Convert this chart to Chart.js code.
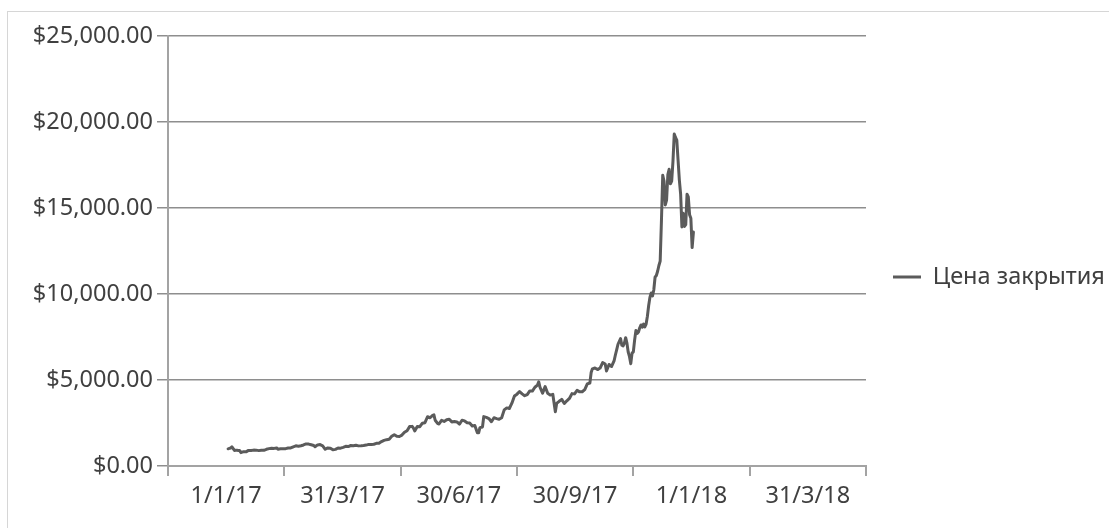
<!DOCTYPE html>
<html>
<head>
<meta charset="utf-8">
<title>Цена закрытия</title>
<script src="https://cdn.jsdelivr.net/npm/chart.js@4.4.1/dist/chart.umd.min.js"></script>
<style>
  html, body { margin: 0; padding: 0; background: #ffffff; overflow: hidden; width: 1109px; height: 528px; }
  #frame { position: absolute; left: 7px; top: 11px; width: 1300px; height: 800px; border: 1px solid #d6d6d6; }
  #chart { position: absolute; left: 0; top: 0; }
</style>
</head>
<body>
<div id="frame"></div>
<canvas id="chart" width="1109" height="528"></canvas>
<script>
// Daily closing prices, 2017
const closeDates = [
  '2017-01-01','2017-01-02','2017-01-03','2017-01-04','2017-01-05','2017-01-06','2017-01-07','2017-01-08','2017-01-09','2017-01-10',
  '2017-01-11','2017-01-12','2017-01-13','2017-01-15','2017-01-17','2017-01-19','2017-01-21','2017-01-23','2017-01-25','2017-01-27',
  '2017-01-29','2017-01-31',
  '2017-02-02','2017-02-04','2017-02-06','2017-02-08','2017-02-09','2017-02-11','2017-02-13','2017-02-15','2017-02-17','2017-02-19',
  '2017-02-21','2017-02-23','2017-02-25','2017-02-27',
  '2017-03-01','2017-03-03','2017-03-05','2017-03-07','2017-03-09','2017-03-10','2017-03-12','2017-03-14','2017-03-16','2017-03-18',
  '2017-03-20','2017-03-22','2017-03-24','2017-03-26','2017-03-28','2017-03-30',
  '2017-04-01','2017-04-03','2017-04-05','2017-04-07','2017-04-09','2017-04-11','2017-04-13','2017-04-15','2017-04-17','2017-04-19',
  '2017-04-21','2017-04-23','2017-04-25','2017-04-27','2017-04-29',
  '2017-05-01','2017-05-03','2017-05-05','2017-05-07','2017-05-09','2017-05-11','2017-05-13','2017-05-15','2017-05-17','2017-05-19',
  '2017-05-21','2017-05-23','2017-05-25','2017-05-26','2017-05-27','2017-05-29','2017-05-31',
  '2017-06-02','2017-06-04','2017-06-06','2017-06-08','2017-06-10','2017-06-11','2017-06-12','2017-06-14','2017-06-15','2017-06-17',
  '2017-06-19','2017-06-21','2017-06-23','2017-06-25','2017-06-27','2017-06-29',
  '2017-07-01','2017-07-03','2017-07-05','2017-07-07','2017-07-09','2017-07-11','2017-07-13','2017-07-15','2017-07-16','2017-07-17',
  '2017-07-19','2017-07-20','2017-07-22','2017-07-24','2017-07-26','2017-07-28','2017-07-30',
  '2017-08-01','2017-08-03','2017-08-05','2017-08-07','2017-08-09','2017-08-11','2017-08-13','2017-08-15','2017-08-17','2017-08-19',
  '2017-08-21','2017-08-23','2017-08-25','2017-08-27','2017-08-29','2017-08-31',
  '2017-09-01','2017-09-02','2017-09-04','2017-09-06','2017-09-08','2017-09-10','2017-09-12','2017-09-14','2017-09-15','2017-09-17',
  '2017-09-19','2017-09-21','2017-09-23','2017-09-25','2017-09-27','2017-09-29',
  '2017-10-01','2017-10-03','2017-10-05','2017-10-07','2017-10-09','2017-10-11','2017-10-12','2017-10-13','2017-10-15','2017-10-17',
  '2017-10-19','2017-10-21','2017-10-23','2017-10-24','2017-10-26','2017-10-28','2017-10-30','2017-10-31',
  '2017-11-01','2017-11-02','2017-11-04','2017-11-05','2017-11-06','2017-11-07','2017-11-08','2017-11-09','2017-11-10','2017-11-11',
  '2017-11-12','2017-11-13','2017-11-14','2017-11-15','2017-11-16','2017-11-17','2017-11-18','2017-11-19','2017-11-20','2017-11-21',
  '2017-11-22','2017-11-23','2017-11-24','2017-11-25','2017-11-26','2017-11-27','2017-11-28','2017-11-29','2017-11-30',
  '2017-12-01','2017-12-02','2017-12-03','2017-12-04','2017-12-05','2017-12-06','2017-12-07','2017-12-08','2017-12-09','2017-12-10',
  '2017-12-11','2017-12-12','2017-12-13','2017-12-14','2017-12-15','2017-12-16','2017-12-17','2017-12-18','2017-12-19','2017-12-20',
  '2017-12-21','2017-12-22','2017-12-23','2017-12-24','2017-12-25','2017-12-26','2017-12-27','2017-12-28','2017-12-29','2017-12-30',
  '2017-12-31'
];

const closePrices = [
  998, 1021, 1043, 1120, 1013, 902, 909, 912, 903, 908,
  778, 807, 827, 822, 908, 900, 923, 922, 895, 919,
  914, 970,
  1011, 1033, 1024, 1052, 977, 1000, 997, 1009, 1049, 1049,
  1117, 1171, 1152, 1179,
  1223, 1285, 1274, 1232, 1193, 1116, 1227, 1244, 1172, 971,
  1050, 1038, 940, 966, 1045, 1039,
  1085, 1144, 1131, 1191, 1182, 1207, 1170, 1176, 1190, 1215,
  1255, 1250, 1265, 1317, 1317,
  1421, 1491, 1531, 1555, 1723, 1820, 1724, 1717, 1797, 1961,
  2053, 2291, 2304, 2202, 2038, 2300, 2286,
  2488, 2518, 2863, 2805, 2942, 2973, 2659, 2464, 2443, 2657,
  2589, 2688, 2715, 2563, 2590, 2564,
  2434, 2659, 2621, 2518, 2502, 2330, 2358, 1930, 1929, 2229,
  2271, 2871, 2830, 2758, 2576, 2809, 2757,
  2718, 2807, 3263, 3378, 3342, 3650, 4073, 4177, 4331, 4193,
  4088, 4151, 4364, 4354, 4579, 4703,
  4892, 4578, 4236, 4614, 4229, 4122, 4168, 3154, 3637, 3763,
  3874, 3631, 3792, 3928, 4208, 4193,
  4403, 4310, 4317, 4439, 4772, 4826, 5430, 5650, 5699, 5605,
  5694, 6014, 5930, 5526, 5904, 5787, 6131, 6468,
  6767, 7078, 7408, 7022, 6985, 7145, 7460, 7143, 6618, 6358,
  5950, 6560, 6636, 7316, 7872, 7708, 7791, 8037, 8200, 8072,
  8254, 8091, 8250, 8708, 9330, 9818, 10059, 9889, 10233,
  10975, 11075, 11323, 11657, 11916, 14291, 16900, 16569, 15178, 15455,
  16936, 17250, 16408, 16564, 17706, 19300, 19100, 18950, 17776, 16624,
  15802, 13900, 14699, 13926, 14027, 15800, 15650, 14606, 14400, 12700,
  13600
];

const seriesName = 'Цена закрытия';
const xTickLabels = ['1/1/17', '31/3/17', '30/6/17', '30/9/17', '1/1/18', '31/3/18'];
const yTickValues = [0, 5000, 10000, 15000, 20000, 25000];

// Axis layout: the date axis starts 47 days before 1 Jan 2017 and is split
// into 91-day bands, each label sitting in the middle of its band.
const AXIS_START_DAY = -47;
const BAND_DAYS = 91;

const W = 1109, H = 528;
const PLOT_LEFT = 168, PLOT_RIGHT = 866, PLOT_TOP = 36, PLOT_BOTTOM = 466;
const X_AXIS_HEIGHT = 52;
const FONT_FAMILY = '"Noto Sans", "Open Sans", sans-serif';
const FONT_SIZE = 23.5;
const TEXT_COLOR = '#404040';
const LINE_COLOR = '#5b5b5b';
const GRID_COLOR = '#8e8e8e';
const AXIS_COLOR = '#a3a3a3';
const FRAME_COLOR = '#c4c4c4';
const LEGEND_BOX = 28, LEGEND_PAD = 27;

const epoch = Date.UTC(2017, 0, 1);
function dayIndex(iso) {
  const [y, m, d] = iso.split('-').map(Number);
  return (Date.UTC(y, m - 1, d) - epoch) / 86400000;
}

const points = closeDates.map((d, i) => ({ x: dayIndex(d), y: closePrices[i] }));

function money(v) {
  return '$' + v.toLocaleString('en-US', { minimumFractionDigits: 2, maximumFractionDigits: 2 });
}

// Room reserved on the right so the legend starts at the plot's right edge.
const measureCtx = document.createElement('canvas').getContext('2d');
measureCtx.font = FONT_SIZE + 'px ' + FONT_FAMILY;
const legendTextWidth = measureCtx.measureText(seriesName).width;
const legendWidth = LEGEND_PAD + LEGEND_BOX + FONT_SIZE / 2 + legendTextWidth + 10;
const padRight = W - PLOT_RIGHT - legendWidth;

const font = { family: FONT_FAMILY, size: FONT_SIZE };
const bandCount = xTickLabels.length;

new Chart(document.getElementById('chart'), {
  type: 'line',
  data: {
    datasets: [{
      label: seriesName,
      data: points,
      borderColor: LINE_COLOR,
      backgroundColor: LINE_COLOR,
      borderWidth: 3,
      pointRadius: 0,
      tension: 0,
      borderJoinStyle: 'round',
      borderCapStyle: 'round',
      fill: false
    }]
  },
  options: {
    responsive: false,
    animation: false,
    layout: { padding: { top: PLOT_TOP, bottom: H - PLOT_BOTTOM - X_AXIS_HEIGHT, left: 0, right: padRight } },
    plugins: {
      tooltip: { enabled: false },
      legend: {
        position: 'right',
        maxWidth: 600,
        labels: {
          boxWidth: LEGEND_BOX,
          boxHeight: 3,
          padding: LEGEND_PAD,
          color: TEXT_COLOR,
          font: font,
          generateLabels: () => [{
            text: seriesName,
            fillStyle: LINE_COLOR,
            strokeStyle: LINE_COLOR,
            lineWidth: 0,
            fontColor: TEXT_COLOR,
            datasetIndex: 0,
            hidden: false
          }]
        }
      }
    },
    scales: {
      x: {
        type: 'linear',
        position: 'bottom',
        min: AXIS_START_DAY,
        max: AXIS_START_DAY + BAND_DAYS * bandCount,
        afterBuildTicks: (scale) => {
          scale.ticks = xTickLabels.map((_, i) => ({ value: AXIS_START_DAY + BAND_DAYS * (i + 0.5) }));
        },
        afterFit: (scale) => { scale.height = X_AXIS_HEIGHT; },
        ticks: {
          autoSkip: false,
          maxRotation: 0,
          padding: 6,
          color: TEXT_COLOR,
          font: font,
          callback: (value, index) => xTickLabels[index]
        },
        grid: {
          offset: true,
          drawOnChartArea: true,
          drawTicks: true,
          tickLength: 10,
          // only the band edge at the far right is drawn across the plot, as its frame
          color: (ctx) => ctx.index === bandCount ? FRAME_COLOR : 'rgba(0,0,0,0)',
          lineWidth: (ctx) => ctx.index === bandCount ? 1.5 : 2,
          tickColor: AXIS_COLOR,
          tickWidth: 2
        },
        border: { display: true, color: AXIS_COLOR, width: 2 }
      },
      y: {
        type: 'linear',
        position: 'left',
        min: 0,
        max: 25000,
        afterBuildTicks: (scale) => {
          scale.ticks = yTickValues.map(v => ({ value: v }));
        },
        afterFit: (scale) => { scale.width = PLOT_LEFT; },
        ticks: {
          padding: 4,
          color: TEXT_COLOR,
          font: font,
          callback: (value) => money(value)
        },
        grid: {
          color: GRID_COLOR,
          lineWidth: 1.5,
          drawTicks: true,
          tickLength: 11
        },
        border: { display: true, color: AXIS_COLOR, width: 2 }
      }
    }
  }
});
</script>
</body>
</html>
